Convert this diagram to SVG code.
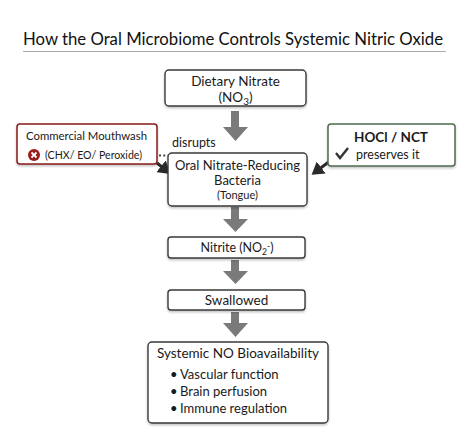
<svg xmlns="http://www.w3.org/2000/svg" width="469" height="439" viewBox="0 0 469 439">
<defs>
<style>
text{font-family:Lato,"Open Sans","Liberation Sans",sans-serif;fill:#1a1a1a}
.box{fill:#fff;stroke:#3a3a3a;stroke-width:1.4}
.t{font-size:13.5px;text-anchor:middle}
.s{font-size:11px;text-anchor:middle}
.b{font-size:13px}
.flow{fill:#7a7a7a}
.blk{stroke:#2a2a2a;stroke-width:3;fill:none}
</style>
<filter id="sh" x="-10%" y="-10%" width="120%" height="130%"><feDropShadow dx="0" dy="1.5" stdDeviation="1" flood-color="#000" flood-opacity="0.25"/></filter>
<marker id="ah" markerWidth="5" markerHeight="5" refX="3" refY="2.5" orient="auto" markerUnits="strokeWidth"><path d="M0,0 L4,2.5 L0,5 z" fill="#2a2a2a"/></marker>
</defs>
<rect width="469" height="439" fill="#fff"/>
<text x="233" y="45" style="font-size:17.5px;text-anchor:middle;fill:#111" textLength="420" lengthAdjust="spacingAndGlyphs">How the Oral Microbiome Controls Systemic Nitric Oxide</text>
<line x1="23" y1="51.5" x2="446" y2="51.5" stroke="#aaa" stroke-width="1"/>

<g id="connectors">
<path class="flow" d="M231,111 h8 v16 h9 l-12.5,14 l-12.5,-14 h8 z"/>
<path class="flow" d="M231,207 h8 v12 h9 l-12.5,13 l-12.5,-13 h8 z"/>
<path class="flow" d="M231,260 h8 v11 h9 l-12.5,13 l-12.5,-13 h8 z"/>
<path class="flow" d="M231,312 h8 v11 h9 l-12.5,14 l-12.5,-14 h8 z"/>
<line class="blk" x1="157" y1="163" x2="168" y2="172" marker-end="url(#ah)"/>
<line class="blk" x1="330" y1="161" x2="314" y2="173" marker-end="url(#ah)"/>
<line x1="159" y1="155.5" x2="172" y2="155.5" stroke="#444" stroke-width="2.2" stroke-dasharray="2,2.3"/>
<text x="172" y="147" style="font-size:12.5px">disrupts</text>
</g>

<g id="dietary">
<rect class="box" x="165" y="70" width="141" height="36" rx="4" filter="url(#sh)"/>
<text class="t" x="235.5" y="86">Dietary Nitrate</text>
<text class="t" x="235.5" y="102">(NO<tspan font-size="10" dy="3">3</tspan><tspan dy="-3">)</tspan></text>
</g>

<g id="mouthwash">
<rect x="17" y="124" width="140" height="40" rx="3" fill="#fff" stroke="#8b1a1a" stroke-width="1.5" filter="url(#sh)"/>
<text class="s" x="86.5" y="140" style="font-size:12px" textLength="121" lengthAdjust="spacingAndGlyphs">Commercial Mouthwash</text>
<circle cx="34" cy="155" r="6" fill="#9b1c1c"/>
<path d="M31.5,152.5 L36.5,157.5 M36.5,152.5 L31.5,157.5" stroke="#fff" stroke-width="1.8"/>
<text x="45" y="159" style="font-size:11.5px" textLength="97" lengthAdjust="spacingAndGlyphs">(CHX/ EO/ Peroxide)</text>
</g>

<g id="hocl">
<rect x="328" y="124" width="127" height="42" rx="3" fill="#fff" stroke="#4f6b4f" stroke-width="1.5" filter="url(#sh)"/>
<text x="391" y="142" style="font-size:13.5px;text-anchor:middle;font-weight:bold">HOCl / NCT</text>
<path d="M336,153 L340,158 L348,148" stroke="#333" stroke-width="2.4" fill="none"/>
<text x="356" y="159" style="font-size:12.5px">preserves it</text>
</g>

<g id="bacteria">
<rect class="box" x="168" y="153" width="139" height="53" rx="4" filter="url(#sh)"/>
<text class="t" x="237.5" y="170" style="font-size:13px">Oral Nitrate-Reducing</text>
<text class="t" x="237.5" y="185" style="font-size:13px">Bacteria</text>
<text class="s" x="237.5" y="199">(Tongue)</text>
</g>

<g id="nitrite">
<rect class="box" x="168" y="237" width="137" height="21" rx="3" filter="url(#sh)"/>
<text class="s" x="237" y="252" style="font-size:12.5px">Nitrite (NO<tspan font-size="8.5" dy="3">2</tspan><tspan font-size="8.5" dy="-6">-</tspan><tspan dy="3">)</tspan></text>
</g>

<g id="swallowed">
<rect class="box" x="168" y="290" width="137" height="20" rx="3" filter="url(#sh)"/>
<text class="t" x="236.5" y="305">Swallowed</text>
</g>

<g id="systemic">
<rect class="box" x="148" y="342" width="180" height="81" rx="4" filter="url(#sh)"/>
<text class="t" x="238" y="358">Systemic NO Bioavailability</text>
<text class="b" x="170" y="379">•</text><text class="b" x="180" y="379">Vascular function</text>
<text class="b" x="170" y="396">•</text><text class="b" x="180" y="396">Brain perfusion</text>
<text class="b" x="170" y="413">•</text><text class="b" x="180" y="413">Immune regulation</text>
</g>
</svg>
